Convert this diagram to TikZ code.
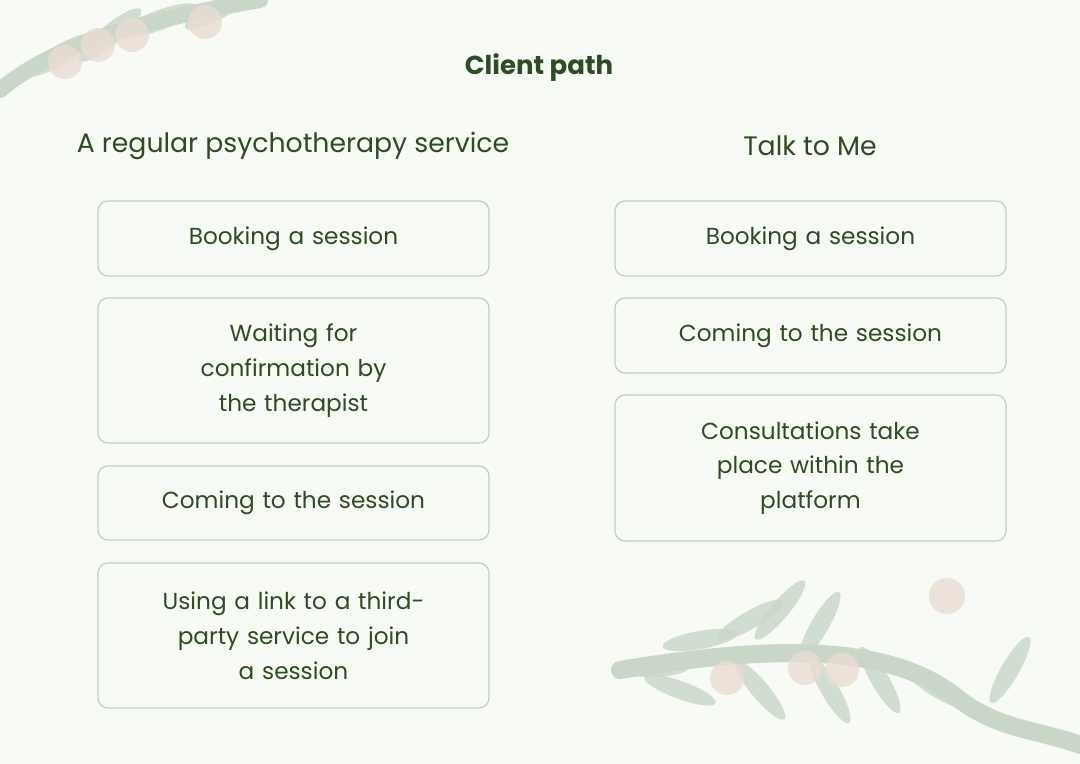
\documentclass[tikz,border=0pt]{standalone}
\usepackage{fontspec}
\setmainfont{Poppins}
\usetikzlibrary{positioning}
\definecolor{bgpale}{HTML}{F7FAF5}
\definecolor{textgreen}{HTML}{2F4A24}
\definecolor{boxline}{HTML}{C5CCC6}
\definecolor{leafgreen}{HTML}{C9D6C8}
\definecolor{dotpink}{HTML}{EBDDD3}
\tikzset{
  pathbox/.style={draw=boxline, line width=0.35pt, rounded corners=1mm, fill=bgpale,
    text=textgreen, align=center, minimum width=39.1mm, text width=30mm,
    font=\fontsize{6.6}{9.9}\selectfont},
  head/.style={text=textgreen, font=\fontsize{7.6}{10}\selectfont},
  leaf/.style={fill=leafgreen, opacity=0.8},
  dot/.style={fill=dotpink, opacity=0.8}
}
\begin{document}
\begin{tikzpicture}[x=0.1mm,y=-0.1mm]
\fill[bgpale] (0,0) rectangle (1080,764);
\useasboundingbox (0,0) rectangle (1080,764);
% decorations
\draw[leafgreen, line width=1.6mm, line cap=round] (0,90) .. controls (60,40) and (150,20) .. (260,0);
\foreach \x/\y/\a in {60/55/30, 110/35/40, 160/20/20, 220/8/30}{
  \fill[leaf, rotate around={\a:(\x,\y)}] (\x,\y) ellipse (4mm and 1mm);
}
\foreach \x/\y in {65/62, 98/45, 132/35, 205/22}{\fill[dot] (\x,\y) circle (1.7mm);}
\draw[leafgreen, line width=1.8mm, line cap=round] (620,670) .. controls (800,640) and (900,650) .. (960,700) .. controls (1000,730) and (1040,730) .. (1080,745);
\foreach \x/\y/\a in {650/668/0, 680/690/-20, 700/640/10, 750/620/30, 780/610/50, 820/625/60, 760/690/-50, 830/690/-60, 880/680/-60, 1010/670/60, 940/690/-30}{
  \fill[leaf, rotate around={\a:(\x,\y)}] (\x,\y) ellipse (3.8mm and 0.9mm);
}
\foreach \x/\y/\r in {727/678/1.7mm, 805/668/1.7mm, 842/670/1.7mm, 947/596/1.8mm}{\fill[dot] (\x,\y) circle (\r);}
% titles
\node[text=textgreen, font=\fontsize{7.4}{10}\selectfont\bfseries] (title) at (539,68) {Client path};
\node[head] (lhead) at (293,146) {A regular psychotherapy service};
\node[head] (rhead) at (810,146) {Talk to Me};
% left column
\node[pathbox, minimum height=7.5mm] (l1) at (293.5,238.5) {Booking a session};
\node[pathbox, minimum height=14.5mm] (l2) at (293.5,370.5) {Waiting for\\ confirmation by\\ the therapist};
\node[pathbox, minimum height=7.4mm] (l3) at (293.5,503) {Coming to the session};
\node[pathbox, minimum height=14.5mm] (l4) at (293.5,635.5) {Using a link to a third-\\party service to join\\ a session};
% right column
\node[pathbox, minimum height=7.5mm] (r1) at (810.5,238.5) {Booking a session};
\node[pathbox, minimum height=7.5mm] (r2) at (810.5,335.5) {Coming to the session};
\node[pathbox, minimum height=14.6mm] (r3) at (810.5,468) {Consultations take\\ place within the\\ platform};
\end{tikzpicture}
\end{document}
